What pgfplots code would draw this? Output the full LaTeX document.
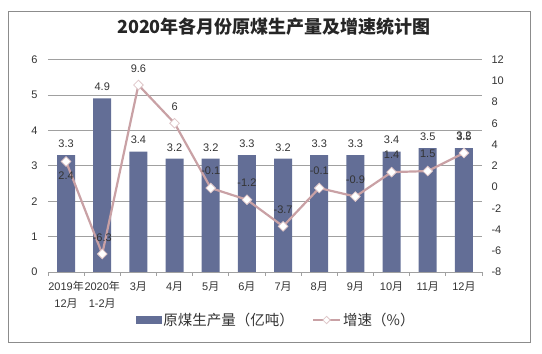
\documentclass[border=0pt]{standalone}
\usepackage{pgfplots}
\pgfplotsset{compat=1.18}
\usepackage{pgfplotstable}
\usepackage{fontspec}
\setmainfont{Liberation Sans}
\newfontfamily\cjk{Noto Sans CJK SC}
\newcommand{\cj}[1]{{\cjk #1}}
\definecolor{barc}{HTML}{636E96}
\definecolor{linec}{HTML}{C9A1A5}
\definecolor{gridc}{HTML}{A0A0A0}
\definecolor{bordc}{HTML}{8C8C8C}
\definecolor{txt}{HTML}{333333}

\pgfplotstableread{
x coal gl dy
0 3.3 2.4 -14
1 4.9 -6.3 16
2 3.4 9.6 16
3 3.2 6 17
4 3.2 -0.1 17
5 3.3 -1.2 17
6 3.2 -3.7 17
7 3.3 -0.1 17
8 3.3 -0.9 17
9 3.4 1.4 17
10 3.5 1.5 17
11 3.5 3.2 17
}\data

\begin{document}
\begin{tikzpicture}[x=1pt,y=1pt]
\useasboundingbox (0,0) rectangle (542,354);
\draw[draw=bordc, line width=1pt] (8.5,11.5) rectangle (530.5,342);
\node[font=\cjk\bfseries\fontsize{18}{18}\selectfont, text=black!85] at (274,327) {2020年各月份原煤生产量及增速统计图};

\begin{axis}[
  at={(48pt,82pt)}, anchor=south west, scale only axis,
  width=434pt, height=212.5pt,
  xmin=-0.5, xmax=11.5, ymin=0, ymax=6,
  ytick={0,1,...,6},
  ymajorgrids, grid style={gridc, line width=0.8pt},
  axis x line*=bottom, axis y line*=left,
  y axis line style={draw=none},
  x axis line style={gridc, line width=0.8pt, -},
  xtick={0,...,11},
  xticklabels={{2019\cj{年}\\12\cj{月}},{2020\cj{年}\\1-2\cj{月}},3\cj{月},4\cj{月},5\cj{月},6\cj{月},7\cj{月},8\cj{月},9\cj{月},10\cj{月},11\cj{月},12\cj{月}},
  major tick length=0pt,
  minor xtick={-0.5,0.5,...,11.5},
  minor tick length=4pt,
  tick align=outside,
  minor tick style={gridc, line width=0.8pt},
  /pgf/number format/assume math mode=true,
  tick label style={font=\fontsize{11}{17}\selectfont, text=txt},
  xticklabel style={align=center, yshift=-6pt},
  yticklabel style={xshift=-7pt},
]
\addplot[ybar, bar width=18pt, fill=barc, draw=none,
  nodes near coords, point meta=explicit symbolic,
  every node near coord/.append style={font=\fontsize{11}{13}\selectfont, text=txt, yshift=4pt}]
  table[x=x, y=coal, meta=coal] {\data};
\end{axis}

\begin{axis}[
  at={(48pt,82pt)}, anchor=south west, scale only axis,
  width=434pt, height=212.5pt,
  xmin=-0.5, xmax=11.5, ymin=-8, ymax=12,
  ytick={-8,-6,...,12},
  axis y line*=right, axis x line=none,
  y axis line style={draw=none},
  major tick length=0pt,
  /pgf/number format/assume math mode=true,
  tick label style={font=\fontsize{11}{13}\selectfont, text=txt},
  yticklabel style={xshift=6pt},
  legend style={at={(0.526,-0.226)}, anchor=center, draw=none, fill=none,
    font=\cjk\fontsize{14.5}{14.5}\selectfont, text=txt},
  legend columns=2,
  legend cell align=left,
  /tikz/every even column/.append style={column sep=16pt},
]
\addlegendimage{legend image code/.code={\fill[barc] (0pt,-3.5pt) rectangle (25pt,3.5pt);}}
\addlegendentry{原煤生产量（亿吨）}
\addplot[linec, line width=2.2pt, mark=square*, mark size=3.4pt,
  mark options={rotate=45, fill=white, draw=linec!60, line width=0.8pt},
  nodes near coords, point meta=explicit symbolic,
  visualization depends on={\thisrow{dy}\as\dy},
  every node near coord/.append style={anchor=center, yshift=\dy pt, font=\fontsize{11}{13}\selectfont, text=txt},
  legend image code/.code={\draw[mark size=2.6pt, mark repeat=2, mark phase=2] plot coordinates {(0pt,0pt) (13.5pt,0pt) (27pt,0pt)};}]
  table[x=x, y=gl, meta=gl] {\data};
\addlegendentry{增速（\%）}
\end{axis}
\end{tikzpicture}
\end{document}
